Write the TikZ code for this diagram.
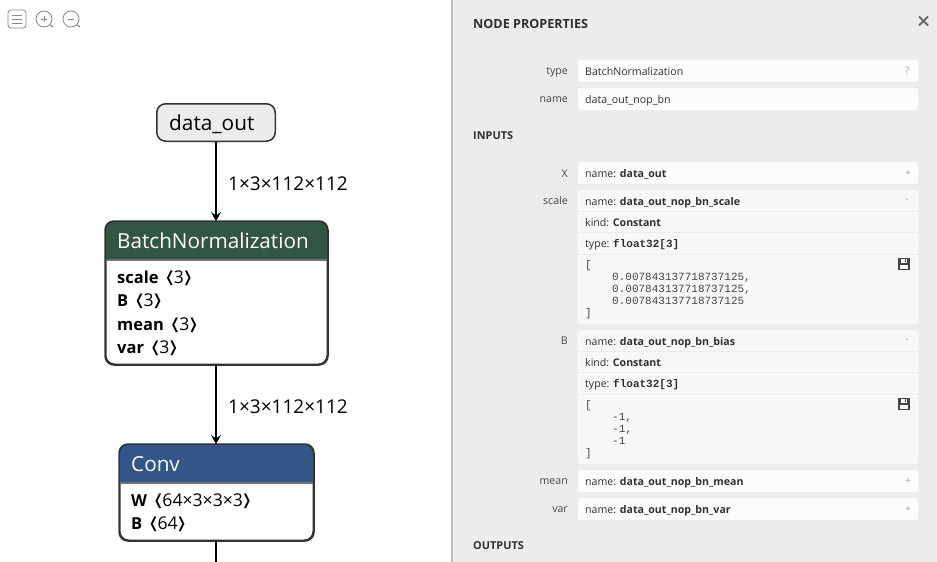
\documentclass[tikz,border=0pt]{standalone}
\usepackage{fontspec}
\setmainfont{Open Sans}
\setmonofont{Liberation Mono}
\newfontfamily\anglefont{DejaVu Sans}
\usepackage{tikz}
\usetikzlibrary{calc}
\usetikzlibrary{arrows.meta}

\definecolor{panelgray}{HTML}{ECECEC}
\definecolor{rowwhite}{HTML}{FCFCFC}
\definecolor{rowgray}{HTML}{F8F8F8}
\definecolor{rowline}{HTML}{ECECEC}
\definecolor{labelgray}{HTML}{444444}
\definecolor{edgegray}{HTML}{333333}
\definecolor{normgreen}{HTML}{335544}
\definecolor{convblue}{HTML}{335588}
\definecolor{icongray}{HTML}{888888}

\newcommand{\attr}[2]{\textbf{#1}\kern6pt\scalebox{1.6}[1]{\anglefont ⟨}\kern-1pt{\fontsize{17.6}{20}\selectfont #2}\kern-1pt\scalebox{1.6}[1]{\anglefont ⟩}}

\begin{document}
\begin{tikzpicture}[x=1pt, y=-1pt,
		box/.style={draw=edgegray, line width=1.5pt, rounded corners=9pt, inner sep=0pt},
		headtext/.style={anchor=base west, inner sep=0pt, text=white, font=\fontsize{20.7}{24}\selectfont},
		attrtext/.style={anchor=base west, inner sep=0pt, font=\fontsize{16.5}{20}\selectfont},
		edgelabel/.style={anchor=base west, inner sep=0pt, font=\fontsize{19}{22}\selectfont},
		edgearrow/.style={draw=black, line width=1.6pt, -{Stealth[length=9pt, width=10pt, inset=3.5pt]}},
		paneltitle/.style={anchor=base west, inner sep=0pt, text=labelgray!70!black, font=\fontsize{10.9}{13}\selectfont\bfseries},
		rowkey/.style={anchor=base east, inner sep=0pt, text=labelgray, font=\fontsize{10.6}{13}\selectfont},
		rowval/.style={anchor=base west, inner sep=0pt, text=labelgray!70!black, font=\fontsize{10.6}{13}\selectfont},
		rowcode/.style={anchor=base west, inner sep=0pt, text=labelgray, font=\fontsize{11}{13}\ttfamily},
		rowhint/.style={anchor=center, inner sep=0pt, text=icongray!70, font=\fontsize{10.5}{13}\selectfont},
		rowsmall/.style={fill=rowwhite, rounded corners=2pt},
		rowbig/.style={fill=rowgray, rounded corners=2pt},
		rowsep/.style={draw=rowline, line width=0.8pt},
		icon/.style={draw=icongray, line width=0.8pt},
	]
	\useasboundingbox (0, 0) rectangle (937, 562);
	\fill[white] (0, 0) rectangle (937, 562);

	% toolbar
	\draw[icon, rounded corners=3pt] (8, 10) rectangle (26, 28);
	\draw[icon] (12, 15)--(22, 15);
	\draw[icon] (12, 19)--(22, 19);
	\draw[icon] (12, 23)--(22, 23);
	\draw[icon] (44, 19) circle[radius=8];
	\draw[icon] (41, 19)--(47, 19);
	\draw[icon] (44, 16)--(44, 22);
	\draw[icon, line width=1.2pt] (50, 25)--(53, 27);
	\draw[icon] (71, 19) circle[radius=8];
	\draw[icon] (68, 19)--(74, 19);
	\draw[icon, line width=1.2pt] (77, 25)--(80, 27);

	% graph
	\node[box, fill=panelgray, minimum width=118.5pt, minimum height=37.5pt] (dataout) at (216, 122.5) {};
	\node[anchor=base west, inner sep=0pt, font=\fontsize{20.8}{24}\selectfont] (dataouttext) at (169, 130) {data\_out};

	\node[box, fill=white, minimum width=221.5pt, minimum height=142.5pt] (bn) at (216.5, 293) {};
	\fill[normgreen] (106, 260) [rounded corners=9pt]--(106, 222)--(327, 222) [sharp corners]--(327, 260)--cycle;
	\draw[edgegray!70, line width=1.2pt] (106, 260)--(327, 260);
	\draw[box, fill=none] (bn.north west) rectangle (bn.south east);
	\node[headtext] (bnhead) at (117, 248) {BatchNormalization};
	\node[attrtext] (bnscale) at (117, 283) {\attr{scale}{3}};
	\node[attrtext] (bnb) at (117, 306) {\attr{B}{3}};
	\node[attrtext] (bnmean) at (117, 330) {\attr{mean}{3}};
	\node[attrtext] (bnvar) at (117, 353) {\attr{var}{3}};

	\node[box, fill=white, minimum width=193.5pt, minimum height=95.5pt] (conv) at (216.5, 492.5) {};
	\fill[convblue] (120, 483) [rounded corners=9pt]--(120, 445)--(313, 445) [sharp corners]--(313, 483)--cycle;
	\draw[edgegray!70, line width=1.2pt] (120, 483)--(313, 483);
	\draw[box, fill=none] (conv.north west) rectangle (conv.south east);
	\node[headtext] (convhead) at (131, 471) {Conv};
	\node[attrtext] (convw) at (131, 506) {\attr{W}{64×3×3×3}};
	\node[attrtext] (convb) at (131, 529) {\attr{B}{64}};

	\coordinate (convout) at (216, 562);
	\draw[edgearrow] (dataout.south)--(dataout.south |- bn.north);
	\draw[edgearrow] (bn.south -| dataout.south)--(dataout.south |- conv.north);
	\draw[draw=black, line width=1.6pt] (conv.south -| dataout.south)--(convout);
	\node[edgelabel] (edgeone) at (228, 190.5) {1×3×112×112};
	\node[edgelabel] (edgetwo) at (228, 413.5) {1×3×112×112};

	% panel
	\fill[panelgray] (452, 0) rectangle (937, 562);
	\draw[draw=black!25, line width=1.6pt] (452, 0)--(452, 562);
	\node[paneltitle, font=\fontsize{12.6}{15}\selectfont\bfseries] (nodeprops) at (473, 28) {NODE PROPERTIES};
	\draw[draw=labelgray!80, line width=1.8pt] (919, 16.5)--(928, 25.5);
	\draw[draw=labelgray!80, line width=1.8pt] (928, 16.5)--(919, 25.5);

	\fill[rowsmall] (578, 60) rectangle (918, 82);
	\fill[rowsmall] (578, 88) rectangle (918, 110);
	\node[rowkey] (typekey) at (568, 74.5) {type};
	\node[rowval] (typeval) at (585, 75) {BatchNormalization};
	\node[rowhint] (typehint) at (907, 71) {?};
	\node[rowkey] (namekey) at (568, 102.5) {name};
	\node[rowval] (nameval) at (585, 103) {data\_out\_nop\_bn};

	\node[paneltitle] (inputs) at (473, 139) {INPUTS};

	\fill[rowsmall] (578, 162) rectangle (918, 184);
	\node[rowkey] (xkey) at (568, 177) {X};
	\node[rowval] (xval) at (585, 177) {name: \textbf{data\_out}};
	\node[rowhint] (xhint) at (908, 173) {+};

	\fill[rowbig] (578, 190) rectangle (918, 324);
	\draw[rowsep] (578, 211.5)--(918, 211.5);
	\draw[rowsep] (578, 232.5)--(918, 232.5);
	\draw[rowsep] (578, 254.5)--(918, 254.5);
	\node[rowkey] (scalekey) at (568, 204) {scale};
	\node[rowval] (scalename) at (585, 205) {name: \textbf{data\_out\_nop\_bn\_scale}};
	\node[rowhint] (scalehint) at (907, 201) {-};
	\node[rowval] (scalekind) at (585, 226) {kind: \textbf{Constant}};
	\node[rowval] (scaletype) at (585, 247.5) {type: {\fontsize{11}{13}\ttfamily\bfseries float32[3]}};
	\node[rowcode] (scaleopen) at (585, 268) {[};
	\node[rowcode] (scalea) at (612, 280) {0.007843137718737125,};
	\node[rowcode] (scaleb) at (612, 292) {0.007843137718737125,};
	\node[rowcode] (scalec) at (612, 304) {0.007843137718737125};
	\node[rowcode] (scaleclose) at (585, 316) {]};

	\fill[rowbig] (578, 330) rectangle (918, 464);
	\draw[rowsep] (578, 351.5)--(918, 351.5);
	\draw[rowsep] (578, 372.5)--(918, 372.5);
	\draw[rowsep] (578, 394.5)--(918, 394.5);
	\node[rowkey] (bkey) at (568, 344) {B};
	\node[rowval] (bname) at (585, 345) {name: \textbf{data\_out\_nop\_bn\_bias}};
	\node[rowhint] (bhint) at (907, 341) {-};
	\node[rowval] (bkind) at (585, 366) {kind: \textbf{Constant}};
	\node[rowval] (btype) at (585, 387.5) {type: {\fontsize{11}{13}\ttfamily\bfseries float32[3]}};
	\node[rowcode] (bopen) at (585, 408) {[};
	\node[rowcode] (ba) at (612, 420) {-1,};
	\node[rowcode] (bb) at (612, 432) {-1,};
	\node[rowcode] (bc) at (612, 444) {-1};
	\node[rowcode] (bclose) at (585, 456) {]};

	\fill[rowsmall] (578, 470) rectangle (918, 492);
	\node[rowkey] (meankey) at (568, 484) {mean};
	\node[rowval] (meanval) at (585, 485) {name: \textbf{data\_out\_nop\_bn\_mean}};
	\node[rowhint] (meanhint) at (908, 481) {+};
	\fill[rowsmall] (578, 498) rectangle (918, 520);
	\node[rowkey] (varkey) at (568, 512) {var};
	\node[rowval] (varval) at (585, 513) {name: \textbf{data\_out\_nop\_bn\_var}};
	\node[rowhint] (varhint) at (908, 509) {+};

	\node[paneltitle] (outputs) at (473, 549) {OUTPUTS};

	% save icons
	\fill[labelgray] (898, 258) rectangle (910, 270);
	\fill[rowgray] (901, 258.5) rectangle (907, 262.5);
	\fill[labelgray] (904.5, 259) rectangle (906, 262);
	\fill[rowgray] (900, 265) rectangle (908, 269);
	\fill[labelgray] (898, 398) rectangle (910, 410);
	\fill[rowgray] (901, 398.5) rectangle (907, 402.5);
	\fill[labelgray] (904.5, 399) rectangle (906, 402);
	\fill[rowgray] (900, 405) rectangle (908, 409);
\end{tikzpicture}
\end{document}
